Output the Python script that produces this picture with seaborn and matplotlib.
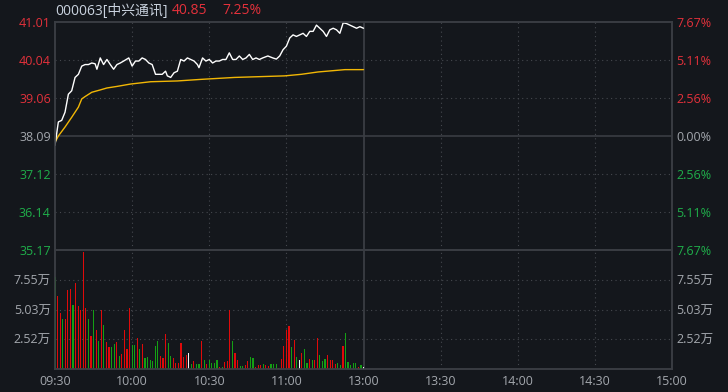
import matplotlib
matplotlib.use("Agg")
import matplotlib.pyplot as plt
import seaborn as sns
import pandas as pd

# ---------------- data ----------------
stock_code = "000063[中兴通讯]"
last_price = "40.85"
last_pct = "7.25%"
prev_close = 38.09

price_minutes = [0, 1.3, 2.6, 3.9, 5.2, 6.5, 7.8, 9.1, 10.4, 11.7, 13.0, 14.3, 15.6, 16.3, 17.6,
                 18.9, 20.2, 21.5, 22.8, 24.1, 25.4, 26.7, 28.7, 30.0, 31.3, 32.6, 33.9, 35.2,
                 36.5, 37.8, 39.1, 40.4, 41.7, 43.0, 43.7, 45.0, 46.3, 47.6, 48.9, 50.2, 51.5,
                 52.8, 54.1, 55.4, 56.0, 57.4, 58.7, 60.0, 61.3, 62.6, 63.9, 65.2, 66.5, 67.8,
                 69.1, 70.4, 71.7, 73.0, 74.3, 75.6, 76.9, 78.2, 79.5, 80.8, 82.8, 84.7, 86.1,
                 87.4, 88.7, 90.0, 91.3, 92.6, 93.9, 95.2, 96.5, 97.8, 99.1, 100.4, 101.7, 103.0,
                 104.3, 105.6, 106.9, 108.2, 109.5, 110.8, 112.1, 113.4, 114.7, 116.0, 117.3,
                 118.6, 120.0]
price = [37.85, 38.45, 38.49, 38.70, 39.16, 39.25, 39.59, 39.67, 39.88, 39.92, 39.92, 39.96,
         39.94, 39.80, 40.09, 39.92, 40.05, 39.92, 39.80, 39.92, 39.96, 40.01, 40.09, 39.88,
         40.01, 40.01, 40.09, 40.05, 39.96, 39.92, 39.67, 39.67, 39.67, 39.75, 39.63, 39.59,
         39.71, 39.75, 40.05, 40.01, 40.09, 40.05, 40.01, 39.92, 39.84, 40.09, 40.01, 40.05,
         39.96, 40.01, 40.01, 40.05, 40.05, 40.22, 40.05, 40.05, 40.14, 40.05, 40.09, 40.18,
         40.05, 40.09, 40.05, 40.09, 40.14, 40.09, 40.06, 40.14, 40.30, 40.39, 40.60, 40.68,
         40.64, 40.68, 40.72, 40.64, 40.77, 40.77, 40.93, 40.85, 40.77, 40.64, 40.81, 40.85,
         40.81, 40.72, 40.99, 40.97, 40.93, 40.89, 40.85, 40.89, 40.85]

avg_minutes = [0, 1.3, 3.9, 6.5, 9.1, 10.4, 11.7, 14.3, 17.6, 20.2, 24.1, 29.3, 37.2, 47.6,
               56.7, 69.8, 89.3, 95.8, 102.3, 112.8, 120]
avg_price = [37.93, 38.09, 38.32, 38.57, 38.83, 39.04, 39.10, 39.21, 39.27, 39.32, 39.36,
             39.42, 39.48, 39.50, 39.54, 39.59, 39.63, 39.67, 39.73, 39.79, 39.79]

volume = [7.76, 6.16, 4.71, 4.22, 4.22, 6.66, 6.80, 5.44, 7.27, 5.35, 5.00, 9.94, 5.15, 4.22,
          2.82, 5.00, 3.26, 2.38, 5.00, 3.75, 2.30, 1.86, 1.86, 2.09, 2.30, 1.13, 1.31, 3.26,
          1.66, 5.20, 2.01, 2.01, 2.62, 1.66, 2.15, 0.93, 0.99, 0.78, 0.70, 1.92, 2.38, 1.13,
          0.93, 2.97, 2.24, 1.13, 0.93, 0.55, 0.49, 2.24, 0.99, 1.22, 1.37, 0.44, 0.70, 0.41,
          0.41, 2.38, 0.78, 0.44, 0.73, 0.55, 0.49, 0.78, 0.20, 0.20, 0.58, 0.64, 5.00, 2.38,
          1.37, 0.78, 0.26, 0.26, 0.35, 0.64, 0.99, 0.90, 0.20, 0.35, 0.35, 0.44, 0.35, 0.26,
          0.44, 0.44, 0.44, 0.12, 0.84, 1.95, 3.26, 3.60, 1.89, 2.44, 0.99, 0.78, 1.37, 1.69,
          0.55, 0.87, 0.78, 0.78, 2.59, 1.22, 0.70, 0.87, 1.22, 0.78, 0.78, 0.44, 0.49, 0.35,
          1.95, 3.05, 0.58, 0.35, 0.49, 0.49, 0.20, 0.35, 0.15]
vol_dir = ["g", "r", "r", "g", "r", "r", "r", "g", "r", "r", "r", "r", "r", "g", "r", "g",
           "r", "g", "r", "g", "r", "r", "g", "g", "r", "g", "r", "r", "r", "r", "g", "g",
           "r", "g", "r", "g", "g", "g", "g", "g", "g", "r", "r", "r", "g", "g", "r", "r",
           "r", "r", "r", "r", "w", "g", "r", "g", "g", "r", "g", "r", "g", "g", "g", "g",
           "r", "g", "r", "r", "r", "g", "r", "r", "g", "g", "r", "r", "g", "g", "r", "r",
           "r", "g", "r", "r", "g", "g", "g", "r", "r", "r", "r", "r", "g", "r", "g", "w",
           "r", "g", "g", "r", "g", "r", "r", "g", "g", "g", "r", "r", "r", "r", "g", "g",
           "r", "g", "g", "g", "g", "g", "r", "g", "w"]
vol_minutes = list(range(len(volume)))

price_ticks = [41.01, 40.04, 39.06, 38.09, 37.12, 36.14, 35.17]
pct_labels = ["7.67%", "5.11%", "2.56%", "0.00%", "2.56%", "5.11%", "7.67%"]
vol_ticks = [2.52, 5.03, 7.55]
vol_labels = ["2.52万", "5.03万", "7.55万"]
vol_max = 10.07
time_ticks = [0, 30, 60, 90, 120, 150, 180, 210, 240]
time_labels = ["09:30", "10:00", "10:30", "11:00", "13:00", "13:30", "14:00", "14:30", "15:00"]

# ---------------- style ----------------
BG = "#14171c"
FRAME = "#3a3d43"
GRID = "#45484e"
RED = "#e3313b"
GREEN = "#1fae4a"
GREY = "#a3a7ad"
sns.set_theme(style="dark")
FAM = ["Open Sans", "Noto Sans CJK SC", "DejaVu Sans"]
plt.rcParams["font.family"] = FAM
plt.rcParams["font.size"] = 9
plt.rcParams["xtick.labelsize"] = 9
plt.rcParams["ytick.labelsize"] = 9
plt.rcParams["axes.facecolor"] = BG
plt.rcParams["figure.facecolor"] = BG
plt.rcParams["patch.edgecolor"] = "none"

fig = plt.figure(figsize=(7.28, 3.92), dpi=100)
L, W = 55 / 728, 617 / 728
axp = fig.add_axes([L, 1 - 250 / 392, W, 228 / 392])
axv = fig.add_axes([L, 1 - 369 / 392, W, 119 / 392])

dot = (0, (1, 3))

# price panel
for t in price_ticks[1:-1]:
    if t == prev_close:
        axp.axhline(t, color=FRAME, lw=1.2, zorder=1)
    else:
        axp.axhline(t, color=GRID, lw=0.8, ls=dot, zorder=1)
for m in time_ticks[1:-1]:
    if m == 120:
        axp.axvline(m, color=FRAME, lw=1.3, zorder=1)
    else:
        axp.axvline(m, color=GRID, lw=0.8, ls=dot, zorder=1)

sns.lineplot(x=avg_minutes, y=avg_price, color="#f2b705", lw=1.0, ax=axp, zorder=3)
sns.lineplot(x=price_minutes, y=price, color="white", lw=1.0, ax=axp, zorder=4)
axp.set_xlim(0, 240)
axp.set_ylim(price_ticks[-1], price_ticks[0])
axp.set_xticks([])
axp.set_yticks(price_ticks)
axp.set_yticklabels([f"{t:.2f}" for t in price_ticks])
axp.tick_params(axis="y", length=0, pad=3)
for t, lab in zip(price_ticks, axp.get_yticklabels()):
    lab.set_color(RED if t > prev_close else (GREY if t == prev_close else GREEN))

axp2 = axp.twinx()
axp2.set_ylim(axp.get_ylim())
axp2.set_yticks(price_ticks)
axp2.set_yticklabels(pct_labels)
axp2.tick_params(axis="y", length=0, pad=3)
for t, lab in zip(price_ticks, axp2.get_yticklabels()):
    lab.set_color(RED if t > prev_close else (GREY if t == prev_close else GREEN))

# volume panel
for t in vol_ticks:
    axv.axhline(t, color=GRID, lw=0.8, ls=dot, zorder=1)
for m in time_ticks[1:-1]:
    if m == 120:
        axv.axvline(m, color=FRAME, lw=1.3, zorder=1)
    else:
        axv.axvline(m, color=GRID, lw=0.8, ls=dot, zorder=1)

vdf = pd.DataFrame({"minute": vol_minutes, "vol": volume, "dir": vol_dir})
sns.barplot(data=vdf, x="minute", y="vol", hue="dir",
            palette={"r": "#e00a0a", "g": "#14a014", "w": "#f4f4f4"},
            native_scale=True, dodge=False, width=0.45, errorbar=None,
            saturation=1, legend=False, linewidth=0, edgecolor="none",
            ax=axv, zorder=3)
for p in axv.patches:
    p.set_antialiased(False)
axv.set_xlim(0, 240)
axv.set_ylim(0, vol_max)
axv.set_xlabel("")
axv.set_ylabel("")
axv.set_yticks(vol_ticks)
axv.set_yticklabels(vol_labels, color=GREY)
axv.set_xticks(time_ticks)
axv.set_xticklabels(time_labels, color=GREY)
axv.tick_params(axis="y", length=0, pad=3)
axv.tick_params(axis="x", length=0, pad=4)

axv2 = axv.twinx()
axv2.set_ylim(0, vol_max)
axv2.set_yticks(vol_ticks)
axv2.set_yticklabels(vol_labels, color=GREY)
axv2.tick_params(axis="y", length=0, pad=3)

for ax in (axp, axp2, axv, axv2):
    ax.grid(False)
    for s in ax.spines.values():
        s.set_color(FRAME)
        s.set_linewidth(1.2)

# header
fig.text(55 / 728, 1 - 11 / 392, stock_code, color="#c9d2de", va="center", ha="left", fontsize=10)
fig.text(172 / 728, 1 - 11 / 392, last_price, color=RED, va="center", ha="left", fontsize=10)
fig.text(222 / 728, 1 - 11 / 392, last_pct, color=RED, va="center", ha="left", fontsize=10)

fig.savefig("out.png", dpi=100, facecolor=BG)
